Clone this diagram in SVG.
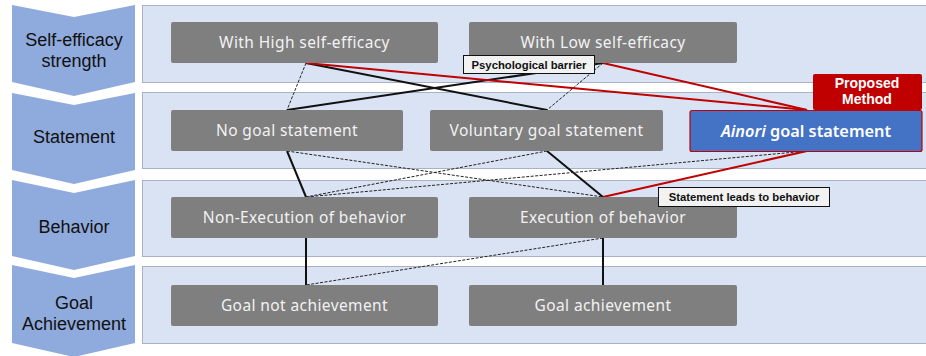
<svg xmlns="http://www.w3.org/2000/svg" width="926" height="356" viewBox="0 0 926 356">
  <style>
    .chev { fill: #8faadc; }
    .band { fill: #dae3f3; stroke: #a9b2c0; stroke-width: 1; }
    .stage { font-family: "Liberation Sans", Arial, sans-serif; font-size: 18px; fill: #111; text-anchor: middle; }
    .node rect { fill: #7f7f7f; }
    .node text { font-family: "Noto Sans", "DejaVu Sans", sans-serif; font-size: 15.5px; fill: #f2f2f2; text-anchor: middle; letter-spacing: 0.4px; }
    .solid { stroke: #111; stroke-width: 2; fill: none; }
    .dash { stroke: #222; stroke-width: 1; stroke-dasharray: 3 1.5; fill: none; }
    .red { stroke: #c00000; stroke-width: 2; fill: none; }
    .callout rect { fill: #f2f2f2; stroke: #111; stroke-width: 1; }
    .callout text { font-family: "Liberation Sans", Arial, sans-serif; font-size: 11.3px; font-weight: bold; fill: #111; text-anchor: middle; }
  </style>

  <!-- stage chevrons -->
  <g id="stages">
    <polygon class="chev" points="12,5 74,17 135,5 135,82 74,96 12,82"/>
    <polygon class="chev" points="12,93 74,105 135,93 135,170 74,184 12,170"/>
    <polygon class="chev" points="12,180 74,193 135,180 135,256 74,270 12,256"/>
    <polygon class="chev" points="12,265 74,278 135,265 135,343 74,357 12,343"/>
    <text class="stage" x="74" y="46">Self-efficacy</text>
    <text class="stage" x="74" y="67">strength</text>
    <text class="stage" x="74" y="143">Statement</text>
    <text class="stage" x="74" y="233">Behavior</text>
    <text class="stage" x="74" y="309">Goal</text>
    <text class="stage" x="74" y="330">Achievement</text>
  </g>

  <!-- row bands -->
  <g id="bands">
    <rect class="band" x="142.5" y="5.5" width="790" height="77"/>
    <rect class="band" x="142.5" y="92.5" width="790" height="76"/>
    <rect class="band" x="142.5" y="180.5" width="790" height="76"/>
    <rect class="band" x="142.5" y="266.5" width="790" height="77"/>
  </g>

  <!-- connectors -->
  <g id="connectors">
    <!-- self-efficacy to statement -->
    <line class="dash" x1="306" y1="63" x2="287" y2="110"/>
    <line class="solid" x1="306" y1="63" x2="547" y2="110"/>
    <line class="solid" x1="603" y1="63" x2="287" y2="110"/>
    <line class="dash" x1="603" y1="63" x2="547" y2="110"/>
    <line class="red" x1="306" y1="63" x2="807" y2="110"/>
    <line class="red" x1="603" y1="63" x2="807" y2="110"/>
    <!-- statement to behavior -->
    <line class="solid" x1="287" y1="151" x2="306" y2="197"/>
    <line class="dash" x1="287" y1="151" x2="603" y2="197"/>
    <line class="dash" x1="547" y1="151" x2="306" y2="197"/>
    <line class="solid" x1="547" y1="151" x2="603" y2="197"/>
    <line class="dash" x1="807" y1="151" x2="306" y2="197"/>
    <line class="red" x1="807" y1="151" x2="603" y2="197"/>
    <!-- behavior to goal achievement -->
    <line class="solid" x1="306" y1="238" x2="306" y2="285"/>
    <line class="dash" x1="603" y1="238" x2="306" y2="285"/>
    <line class="solid" x1="603" y1="238" x2="603" y2="285"/>
  </g>

  <!-- nodes -->
  <g id="high" class="node">
    <rect x="171" y="22" width="267" height="41" rx="2"/>
    <text x="304.5" y="48">With High self-efficacy</text>
  </g>
  <g id="low" class="node">
    <rect x="469" y="22" width="268" height="41" rx="2"/>
    <text x="603" y="48">With Low self-efficacy</text>
  </g>
  <g id="nogoal" class="node">
    <rect x="171" y="110" width="232" height="41" rx="2"/>
    <text x="287" y="136">No goal statement</text>
  </g>
  <g id="voluntary" class="node">
    <rect x="430" y="110" width="233" height="41" rx="2"/>
    <text x="546.5" y="136">Voluntary goal statement</text>
  </g>
  <g id="ainori">
    <rect x="690" y="110.5" width="232" height="41" rx="2" fill="#4472c4" stroke="#c00000" stroke-width="1.2"/>
    <text x="806" y="136.5" font-family="'Noto Sans', 'DejaVu Sans', sans-serif" font-size="16.3px" font-weight="600" fill="#ffffff" text-anchor="middle"><tspan font-style="italic">Ainori</tspan> goal statement</text>
  </g>
  <g id="proposed">
    <rect x="813" y="74" width="109" height="36" rx="2" fill="#c00000"/>
    <text x="867" y="88" font-family="'Liberation Sans', Arial, sans-serif" font-size="14px" font-weight="bold" fill="#ffffff" text-anchor="middle">Proposed</text>
    <text x="867" y="104" font-family="'Liberation Sans', Arial, sans-serif" font-size="14px" font-weight="bold" fill="#ffffff" text-anchor="middle">Method</text>
  </g>
  <g id="nonexec" class="node">
    <rect x="171" y="197" width="267" height="41" rx="2"/>
    <text x="304.5" y="223">Non-Execution of behavior</text>
  </g>
  <g id="exec" class="node">
    <rect x="469" y="197" width="268" height="41" rx="2"/>
    <text x="603" y="223">Execution of behavior</text>
  </g>
  <g id="notachieved" class="node">
    <rect x="171" y="285" width="267" height="41" rx="2"/>
    <text x="304.5" y="311">Goal not achievement</text>
  </g>
  <g id="achieved" class="node">
    <rect x="469" y="285" width="268" height="41" rx="2"/>
    <text x="603" y="311">Goal achievement</text>
  </g>

  <!-- callouts -->
  <g id="barrier" class="callout">
    <rect x="463.5" y="55.5" width="131" height="18"/>
    <text x="529" y="68.5">Psychological barrier</text>
  </g>
  <g id="leads" class="callout">
    <rect x="658.5" y="187.5" width="171" height="19"/>
    <text x="744" y="201">Statement leads to behavior</text>
  </g>
</svg>
